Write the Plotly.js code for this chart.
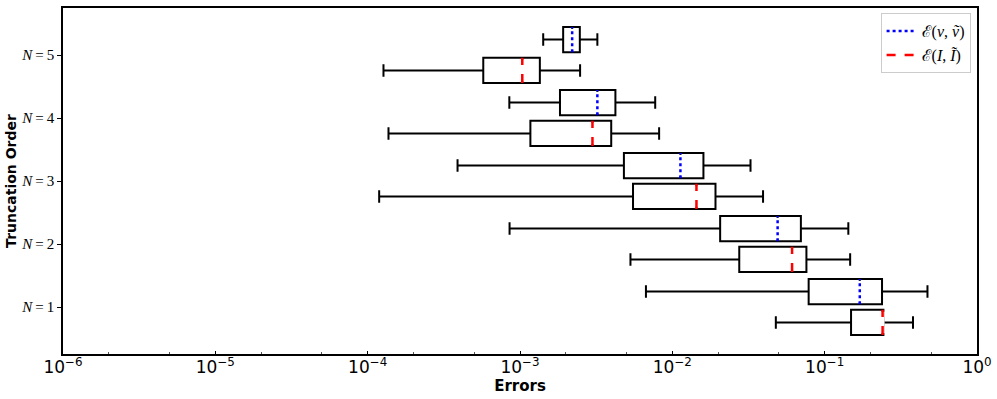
<!DOCTYPE html>
<html>
<head>
<meta charset="utf-8">
<script src="https://cdn.plot.ly/plotly-3.0.1.min.js"></script>
<style>body{margin:0;background:#fff}#plot{width:997px;height:399px}</style>
</head>
<body>
<div id="plot"></div>
<script>
// truncation orders N=1..5
var orders = [1, 2, 3, 4, 5];
var orderLabels = ['<i>N</i>\u2009=\u20091', '<i>N</i>\u2009=\u20092', '<i>N</i>\u2009=\u20093', '<i>N</i>\u2009=\u20094', '<i>N</i>\u2009=\u20095'];
var xTickVals = [1e-6, 1e-5, 1e-4, 1e-3, 1e-2, 1e-1, 1];
var xTickText = ['10<sup>−6</sup>', '10<sup>−5</sup>', '10<sup>−4</sup>', '10<sup>−3</sup>', '10<sup>−2</sup>', '10<sup>−1</sup>', '10<sup>0</sup>'];

// E(v, v~) box stats
var vLow  = [6.71e-3, 8.54e-4, 3.89e-4, 8.51e-4, 1.42e-3];
var vQ1   = [7.85e-2, 2.06e-2, 4.81e-3, 1.83e-3, 1.92e-3];
var vMed  = [0.170,   4.91e-2, 1.13e-2, 3.22e-3, 2.20e-3];
var vQ3   = [0.238,   6.98e-2, 1.60e-2, 4.23e-3, 2.47e-3];
var vHigh = [0.473,   0.143,   3.26e-2, 7.72e-3, 3.22e-3];

// E(I, I~) box stats
var iLow  = [4.78e-2, 5.31e-3, 1.19e-4, 1.37e-4, 1.27e-4];
var iQ1   = [0.149,   2.75e-2, 5.52e-3, 1.17e-3, 5.74e-4];
var iMed  = [0.240,   6.11e-2, 1.44e-2, 2.99e-3, 1.035e-3];
var iQ3   = [0.243,   7.59e-2, 1.92e-2, 3.97e-3, 1.35e-3];
var iHigh = [0.380,   0.147,   3.94e-2, 8.19e-3, 2.48e-3];

var off = 0.245, bw = 0.4;
var vPos = orders.map(function(n){ return n + off; });
var iPos = orders.map(function(n){ return n - off; });

function boxTrace(pos, lo, q1, med, q3, hi) {
  return {
    type: 'box', orientation: 'h',
    y: pos, q1: q1, median: med, q3: q3, lowerfence: lo, upperfence: hi,
    width: bw, whiskerwidth: 0.5, boxpoints: false,
    fillcolor: 'white', line: {color: 'black', width: 2},
    showlegend: false, hoverinfo: 'skip'
  };
}

function medSeg(pos, med, h) {
  var x = [], y = [];
  for (var k = 0; k < pos.length; k++) {
    x.push(med[k], med[k], null);
    y.push(pos[k] - h, pos[k] + h, null);
  }
  return {x: x, y: y};
}

var vs = medSeg(vPos, vMed, bw / 2), is = medSeg(iPos, iMed, bw / 2);
var vc = medSeg(vPos, vMed, bw / 2 - 0.03), ic = medSeg(iPos, iMed, bw / 2 - 0.03);

var data = [
  boxTrace(vPos, vLow, vQ1, vMed, vQ3, vHigh),
  boxTrace(iPos, iLow, iQ1, iMed, iQ3, iHigh),
  {x: vc.x, y: vc.y, type: 'scatter', mode: 'lines', line: {color: 'white', width: 4}, showlegend: false, hoverinfo: 'skip'},
  {x: ic.x, y: ic.y, type: 'scatter', mode: 'lines', line: {color: 'white', width: 4}, showlegend: false, hoverinfo: 'skip'},
  {x: vs.x, y: vs.y, type: 'scatter', mode: 'lines', name: 'ℰ(<i>v</i>, <i>ṽ</i>)',
   line: {color: '#0000ff', width: 2.5, dash: 'dot'}, hoverinfo: 'skip'},
  {x: is.x, y: is.y, type: 'scatter', mode: 'lines', name: 'ℰ(<i>I</i>, <i>Ĩ</i>)',
   line: {color: '#ff0000', width: 2.5, dash: 'dash'}, hoverinfo: 'skip'}
];

var layout = {
  width: 997, height: 399,
  margin: {l: 63, r: 20, t: 8, b: 45},
  paper_bgcolor: 'white', plot_bgcolor: 'white',
  font: {family: 'DejaVu Sans', color: 'black', size: 14},
  xaxis: {
    type: 'log', range: [-6, 0], tickvals: xTickVals, ticktext: xTickText,
    showgrid: false, zeroline: false,
    showline: true, mirror: true, linecolor: 'black', linewidth: 1.5,
    ticks: 'inside', ticklen: 3, tickcolor: 'black',
    minor: {ticks: 'inside', ticklen: 2, tickcolor: '#555', showgrid: false},
    tickfont: {size: 17}, ticklabelstandoff: -3,
    title: {text: '<b>Errors</b>', font: {size: 15}, standoff: 0}
  },
  yaxis: {
    range: [0.254, 5.746], tickvals: orders, ticktext: orderLabels,
    showgrid: false, zeroline: false,
    showline: true, mirror: true, linecolor: 'black', linewidth: 1.5,
    ticks: 'outside', ticklen: 4, tickcolor: 'black',
    tickfont: {family: 'Liberation Serif', size: 15},
    title: {text: '<b>Truncation Order</b>', font: {size: 14}, standoff: 1}
  },
  legend: {
    x: 0.993, y: 0.985, xanchor: 'right', yanchor: 'top',
    bgcolor: 'white', bordercolor: '#cccccc', borderwidth: 1,
    font: {family: 'Liberation Serif', size: 16}
  },
  boxmode: 'overlay'
};

Plotly.newPlot('plot', data, layout, {displayModeBar: false});
</script>
</body>
</html>
